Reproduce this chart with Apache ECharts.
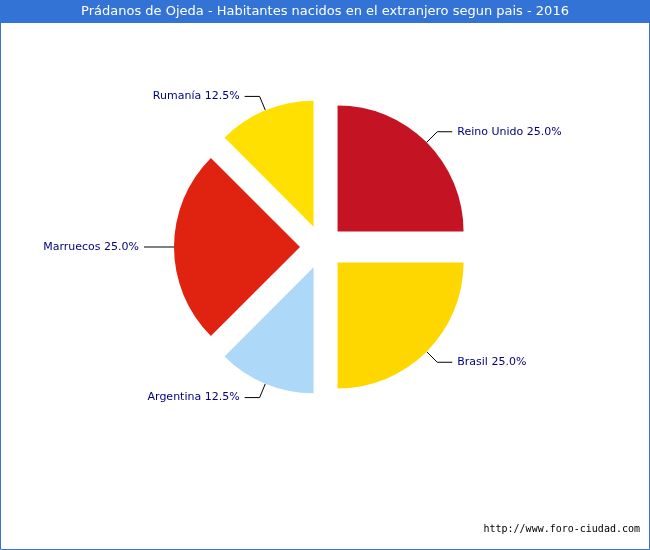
<!DOCTYPE html>
<html><head><meta charset="utf-8">
<script src="https://cdn.jsdelivr.net/npm/echarts@6/dist/echarts.min.js"></script>
<style>html,body{margin:0;padding:0;background:#fff}#c{width:650px;height:550px}</style>
</head><body><div id="c"></div>
<script>
const categories = ["Reino Unido","Brasil","Argentina","Marruecos","Rumanía"];
const values = [25.0,25.0,12.5,25.0,12.5];
const colors = ["#C41424","#FFD700","#ADD8F8","#E02210","#FFE000"];
const chart = echarts.init(document.getElementById('c'));
chart.setOption({
  animation:false,
  graphic:[
    {type:'rect',shape:{x:0.5,y:0.5,width:649,height:549},style:{fill:'none',stroke:'#3373D5',lineWidth:1}},
    {type:'rect',shape:{x:0,y:0,width:650,height:23},style:{fill:'#3373D5'}},
    {type:'text',left:'center',top:5,style:{text:'Prádanos de Ojeda - Habitantes nacidos en el extranjero segun pais - 2016',fill:'#fff',font:'13px "DejaVu Sans", sans-serif'}},
    {type:'text',right:10,bottom:16,style:{text:'http://www.foro-ciudad.com',fill:'#000',font:'10px "DejaVu Sans Mono", monospace'}}
  ],
  series:[{
    type:'pie',center:[322,247],radius:[0,126],startAngle:90,clockwise:true,
    selectedMode:'multiple',selectedOffset:22,
    data:categories.map((n,i)=>({name:n,value:values[i],selected:true,itemStyle:{color:colors[i]}})),
    label:{formatter:p=>p.name+' '+p.value.toFixed(1)+'%',color:'#000080',fontSize:11,fontFamily:'DejaVu Sans'},
    labelLine:{lineStyle:{color:'#000',width:1},length:15,length2:15},
    emphasis:{disabled:true}
  }]
});
</script></body></html>
